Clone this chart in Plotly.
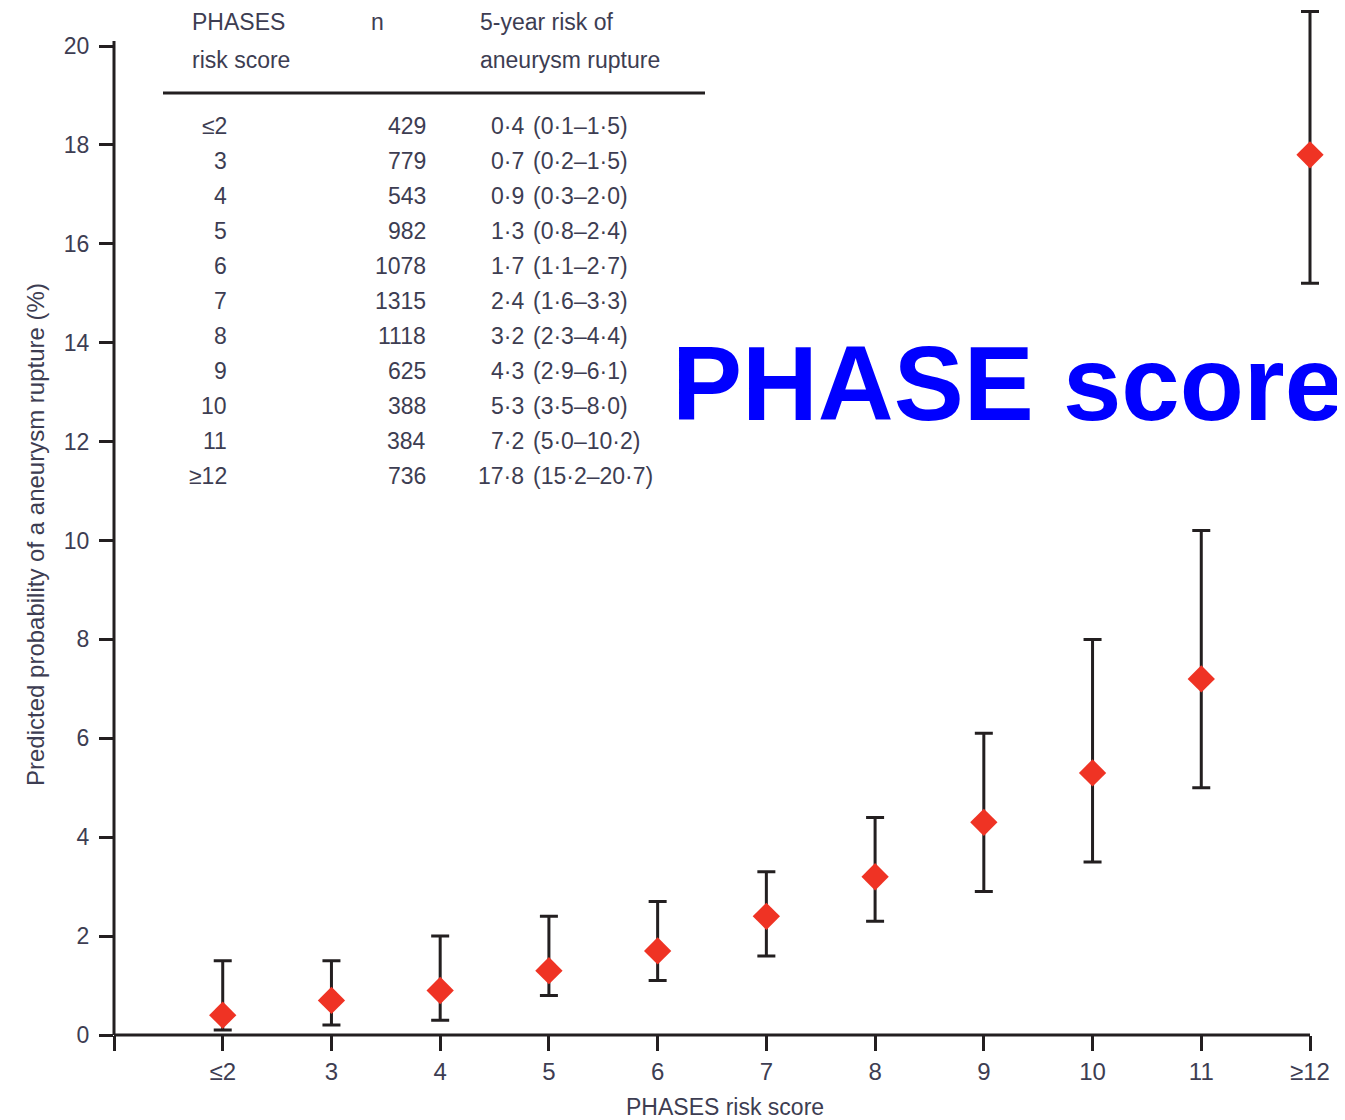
import plotly.graph_objects as go

# ---- data ----
categories = ["≤2", "3", "4", "5", "6", "7", "8", "9", "10", "11", "≥12"]
n_patients = [429, 779, 543, 982, 1078, 1315, 1118, 625, 388, 384, 736]
risk = [0.4, 0.7, 0.9, 1.3, 1.7, 2.4, 3.2, 4.3, 5.3, 7.2, 17.8]
ci_low = [0.1, 0.2, 0.3, 0.8, 1.1, 1.6, 2.3, 2.9, 3.5, 5.0, 15.2]
ci_high = [1.5, 1.5, 2.0, 2.4, 2.7, 3.3, 4.4, 6.1, 8.0, 10.2, 20.7]
y_ticks = [0, 2, 4, 6, 8, 10, 12, 14, 16, 18, 20]

# ---- layout geometry (page pixels) ----
W, H = 1345, 1120
OFF = 8                      # default page body margin
L = 114                      # plot left (x = 0)
R11 = 1310                   # pixel of the last category / end of x-axis line
RP = 1332                    # right edge of plot area (room for the last whisker cap)
B, T20 = 1035, 46            # pixel of y=0 and y=20
TOP = 8                      # top of plot area (room for the 20.7 whisker)
NCAT = len(categories)
XMAX = NCAT * (RP - L) / (R11 - L)
YMAX = 20 * (B - TOP) / (B - T20)
TXT = "#3d3d52"
AX = "#231f20"
FONT = "Liberation Sans, Arial, sans-serif"


def px(x):
    return (x - L) / (RP - L)


def py(y):
    return (B - y) / (B - TOP)


def fmt(v):
    return f"{v:.1f}".replace(".", "·")


xpos = list(range(1, NCAT + 1))

fig = go.Figure()
fig.add_trace(go.Scatter(
    x=xpos, y=risk, mode="markers",
    marker=dict(symbol="diamond", size=21, color="#ef3324", line=dict(width=0)),
    error_y=dict(type="data", symmetric=False,
                 array=[h - v for h, v in zip(ci_high, risk)],
                 arrayminus=[v - l for v, l in zip(risk, ci_low)],
                 color=AX, thickness=3, width=9),
    cliponaxis=False, showlegend=False,
))

ann = []
# table header
ann.append(dict(x=px(190), y=py(22), text="PHASES", xanchor="left"))
ann.append(dict(x=px(190), y=py(60), text="risk score", xanchor="left"))
ann.append(dict(x=px(369), y=py(22), text="n", xanchor="left"))
ann.append(dict(x=px(478), y=py(22), text="5-year risk of", xanchor="left"))
ann.append(dict(x=px(478), y=py(60), text="aneurysm rupture", xanchor="left"))
for i, cat in enumerate(categories):
    yy = py(126 + 35 * i)
    ann.append(dict(x=px(229), y=yy, text=cat, xanchor="right"))
    ann.append(dict(x=px(428), y=yy, text=str(n_patients[i]), xanchor="right"))
    ann.append(dict(x=px(526), y=yy, text=fmt(risk[i]), xanchor="right"))
    ann.append(dict(x=px(531), y=yy,
                    text=f"({fmt(ci_low[i])}–{fmt(ci_high[i])})", xanchor="left"))
for a in ann:
    a.update(xref="paper", yref="paper", yanchor="middle", showarrow=False,
             font=dict(family=FONT, size=23, color=TXT))

# y-axis title
ann.append(dict(x=px(35), y=py(535), xref="paper", yref="paper",
                text="Predicted probability of a aneurysm rupture (%)",
                textangle=-90, showarrow=False, xanchor="center", yanchor="middle",
                font=dict(family=FONT, size=24, color=TXT)))
# x-axis title
ann.append(dict(x=px(725), y=py(1107), xref="paper", yref="paper",
                text="PHASES risk score", showarrow=False,
                xanchor="center", yanchor="middle",
                font=dict(family=FONT, size=23, color=TXT)))
# big blue label
ann.append(dict(x=px(1345), y=py(383), xref="paper", yref="paper",
                text="<b>PHASE score</b>", showarrow=False,
                xanchor="right", yanchor="middle",
                font=dict(family=FONT, size=105, color="#0000ff")))

fig.update_layout(
    width=W - OFF, height=H - OFF, autosize=False,
    margin=dict(l=L - OFF, r=W - RP, t=TOP - OFF, b=H - B, pad=0),
    paper_bgcolor="white", plot_bgcolor="white",
    annotations=ann,
    shapes=[
        # table rule
        dict(type="line", xref="paper", yref="paper",
             x0=px(163), x1=px(705), y0=py(93), y1=py(93),
             line=dict(color=AX, width=3)),
        # y-axis line, ending just above the 20 tick
        dict(type="line", xref="paper", yref="paper",
             x0=0, x1=0, y0=0, y1=py(41),
             line=dict(color=AX, width=3)),
        # x-axis line, ending at the last category
        dict(type="line", xref="x", yref="paper",
             x0=0, x1=NCAT, y0=0, y1=0,
             line=dict(color=AX, width=3)),
    ],
    xaxis=dict(range=[0, XMAX], tickvals=[0] + xpos,
               ticktext=[""] + categories, showgrid=False, zeroline=False,
               showline=False,
               ticks="outside", ticklen=15, tickwidth=3, tickcolor=AX,
               tickfont=dict(family=FONT, size=24, color=TXT)),
    yaxis=dict(range=[0, YMAX], tickvals=y_ticks, showgrid=False, zeroline=False,
               showline=False,
               ticks="outside", ticklen=14, tickwidth=3, tickcolor=AX,
               ticklabelstandoff=5,
               tickfont=dict(family=FONT, size=23, color=TXT)),
)

fig.write_html("out.html")
